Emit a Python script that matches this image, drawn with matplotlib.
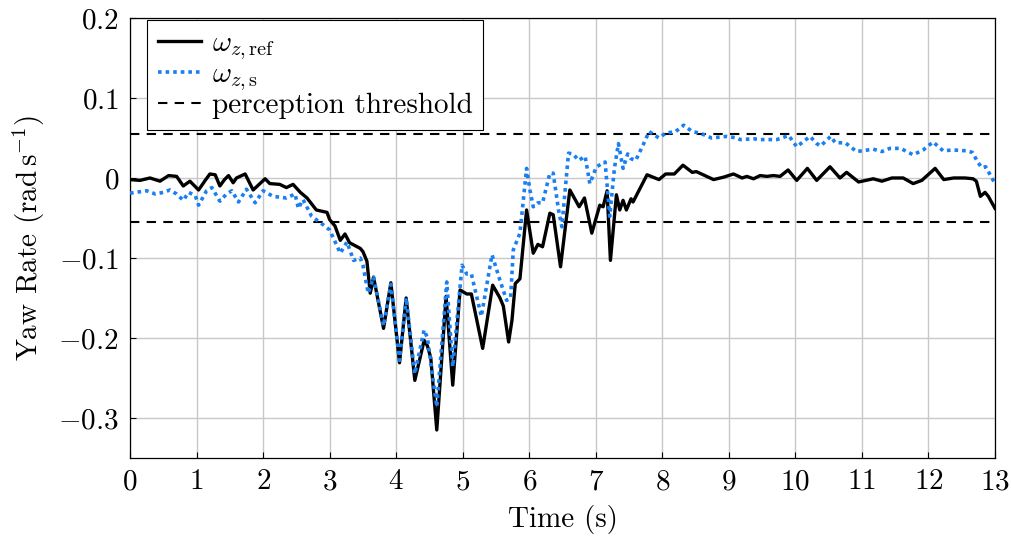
import matplotlib
matplotlib.use("Agg")
import matplotlib.pyplot as plt
from matplotlib.ticker import FuncFormatter

plt.rcParams['font.family'] = 'serif'
plt.rcParams['font.serif'] = ['cmr10']
plt.rcParams['mathtext.fontset'] = 'cm'
plt.rcParams['axes.formatter.use_mathtext'] = True

# reference yaw rate
t_ref = [0.00, 0.15, 0.30, 0.45, 0.58, 0.70, 0.80, 0.90, 1.03, 1.13, 1.20, 1.28, 1.35,
         1.42, 1.48, 1.55, 1.60, 1.73, 1.85, 2.03, 2.10, 2.25, 2.35, 2.45, 2.56, 2.66,
         2.80, 2.96, 3.00, 3.08, 3.16, 3.23, 3.30, 3.46, 3.50, 3.56, 3.61, 3.66, 3.81,
         3.92, 4.05, 4.15, 4.28, 4.42, 4.47, 4.52, 4.61, 4.75, 4.85, 4.96, 5.06, 5.13,
         5.30, 5.45, 5.56, 5.61, 5.69, 5.74, 5.79, 5.86, 5.96, 6.06, 6.13, 6.20, 6.31,
         6.36, 6.47, 6.61, 6.75, 6.83, 6.94, 7.06, 7.11, 7.17, 7.22, 7.31, 7.36, 7.41,
         7.46, 7.53, 7.56, 7.77, 7.95, 8.05, 8.18, 8.31, 8.45, 8.51, 8.77, 8.92, 9.07,
         9.20, 9.27, 9.37, 9.47, 9.57, 9.67, 9.77, 9.89, 10.02, 10.18, 10.32, 10.52,
         10.67, 10.77, 10.95, 11.17, 11.30, 11.45, 11.62, 11.77, 11.90, 12.10, 12.23,
         12.38, 12.55, 12.67, 12.72, 12.78, 12.85, 12.90, 13.00]
w_ref = [-0.002, -0.003, 0.000, -0.004, 0.003, 0.002, -0.010, -0.004, -0.015, -0.003,
         0.005, 0.004, -0.010, -0.002, 0.003, -0.006, 0.000, 0.005, -0.015, -0.001,
         -0.007, -0.008, -0.012, -0.008, -0.018, -0.025, -0.040, -0.043, -0.052, -0.060,
         -0.078, -0.070, -0.081, -0.088, -0.092, -0.104, -0.144, -0.124, -0.188, -0.131,
         -0.231, -0.150, -0.253, -0.203, -0.210, -0.225, -0.315, -0.148, -0.259, -0.140,
         -0.145, -0.145, -0.213, -0.134, -0.150, -0.160, -0.205, -0.178, -0.132, -0.126,
         -0.040, -0.094, -0.083, -0.086, -0.044, -0.046, -0.111, -0.015, -0.036, -0.025,
         -0.069, -0.034, -0.036, -0.016, -0.103, -0.021, -0.040, -0.028, -0.040, -0.026,
         -0.030, 0.004, -0.002, 0.005, 0.005, 0.016, 0.007, 0.008, -0.002, 0.001, 0.005,
         0.000, 0.002, -0.001, 0.003, 0.002, 0.003, 0.002, 0.010, -0.003, 0.012, -0.003,
         0.014, 0.000, 0.007, -0.005, -0.001, -0.004, 0.000, 0.000, -0.007, -0.003, 0.012,
         -0.002, 0.000, 0.000, -0.001, -0.004, -0.023, -0.018, -0.023, -0.038]

# simulator yaw rate
t_sim = [0.00, 0.25, 0.38, 0.50, 0.60, 0.70, 0.80, 0.88, 0.98, 1.03, 1.15, 1.23, 1.35,
         1.45, 1.53, 1.63, 1.75, 1.88, 2.00, 2.15, 2.35, 2.48, 2.53, 2.60, 2.73, 2.88,
         3.00, 3.16, 3.26, 3.36, 3.46, 3.50, 3.58, 3.66, 3.81, 3.92, 4.05, 4.15, 4.28,
         4.42, 4.47, 4.61, 4.76, 4.85, 4.99, 5.06, 5.13, 5.28, 5.44, 5.56, 5.66, 5.72,
         5.76, 5.86, 5.96, 6.01, 6.06, 6.13, 6.20, 6.31, 6.36, 6.44, 6.49, 6.59, 6.66,
         6.74, 6.84, 6.91, 7.01, 7.14, 7.21, 7.28, 7.34, 7.41, 7.48, 7.53, 7.60, 7.71,
         7.80, 7.95, 8.05, 8.20, 8.32, 8.45, 8.57, 8.74, 8.97, 9.12, 9.17, 9.37, 9.47,
         9.72, 9.90, 10.02, 10.22, 10.32, 10.38, 10.53, 10.60, 10.75, 10.92, 11.17,
         11.30, 11.42, 11.58, 11.77, 11.92, 12.07, 12.22, 12.37, 12.57, 12.66, 12.74,
         12.80, 12.86, 13.00]
w_sim = [-0.019, -0.016, -0.020, -0.018, -0.015, -0.020, -0.028, -0.018, -0.022, -0.034,
         -0.016, -0.012, -0.029, -0.020, -0.016, -0.030, -0.014, -0.031, -0.016, -0.023,
         -0.025, -0.020, -0.038, -0.027, -0.048, -0.057, -0.065, -0.094, -0.080, -0.103,
         -0.100, -0.109, -0.144, -0.124, -0.185, -0.133, -0.228, -0.150, -0.245, -0.190,
         -0.200, -0.286, -0.130, -0.236, -0.109, -0.120, -0.120, -0.173, -0.096, -0.128,
         -0.153, -0.150, -0.090, -0.069, 0.012, -0.015, -0.036, -0.031, -0.031, 0.006,
         0.006, -0.040, -0.061, 0.031, 0.030, 0.022, 0.027, -0.007, 0.014, 0.020, -0.048,
         0.012, 0.043, 0.012, 0.030, 0.024, 0.022, 0.041, 0.058, 0.050, 0.056, 0.058,
         0.066, 0.058, 0.056, 0.050, 0.052, 0.050, 0.048, 0.049, 0.048, 0.048, 0.053,
         0.039, 0.052, 0.043, 0.040, 0.052, 0.044, 0.044, 0.033, 0.036, 0.033, 0.037,
         0.037, 0.029, 0.035, 0.045, 0.034, 0.035, 0.034, 0.032, 0.020, 0.013, 0.014,
         -0.007]

threshold = 0.055

fig = plt.figure(figsize=(10.12, 5.4), dpi=100)
ax = fig.add_axes([0.1285, 0.1519, 0.8547, 0.8148])

ax.plot(t_ref, w_ref, color='black', lw=2.4, label=r'$\omega_{z,\mathrm{ref}}$',
        zorder=3, solid_joinstyle='round')
ax.plot(t_sim, w_sim, color='#1a7ff0', lw=2.6, linestyle=(0, (1, 1.1)),
        label=r'$\omega_{z,\mathrm{s}}$', zorder=4)
ax.axhline(threshold, color='black', lw=1.5, linestyle=(0, (4.5, 3.5)),
           label='perception threshold', zorder=2)
ax.axhline(-threshold, color='black', lw=1.5, linestyle=(0, (4.5, 3.5)), zorder=2)

ax.set_xlim(0, 13)
ax.set_ylim(-0.35, 0.2)
ax.set_xticks(range(0, 14))
ax.set_yticks([-0.3, -0.2, -0.1, 0, 0.1, 0.2])
ax.yaxis.set_major_formatter(FuncFormatter(
    lambda v, p: '$0$' if abs(v) < 1e-9 else f'${v:g}$'))
ax.xaxis.set_major_formatter(FuncFormatter(lambda v, p: f'${v:g}$'))
ax.grid(True, color='#c8c8c8', lw=1.0, zorder=0)
ax.set_axisbelow(True)
ax.tick_params(direction='in', length=4, width=0.8, labelsize=21, pad=8)
for s in ax.spines.values():
    s.set_linewidth(0.9)

ax.set_xlabel('Time (s)', fontsize=21, labelpad=7)
ax.set_ylabel(r'Yaw Rate ($\mathrm{rad\,s^{-1}}$)', fontsize=21, labelpad=8)

leg = ax.legend(loc='upper left', bbox_to_anchor=(0.02, 0.995), borderaxespad=0,
                fontsize=21, fancybox=False, framealpha=1, edgecolor='black',
                handlelength=1.5, handletextpad=0.35, labelspacing=0.0,
                borderpad=0.35)
leg.get_frame().set_linewidth(0.8)

fig.savefig('out.png', dpi=100)
